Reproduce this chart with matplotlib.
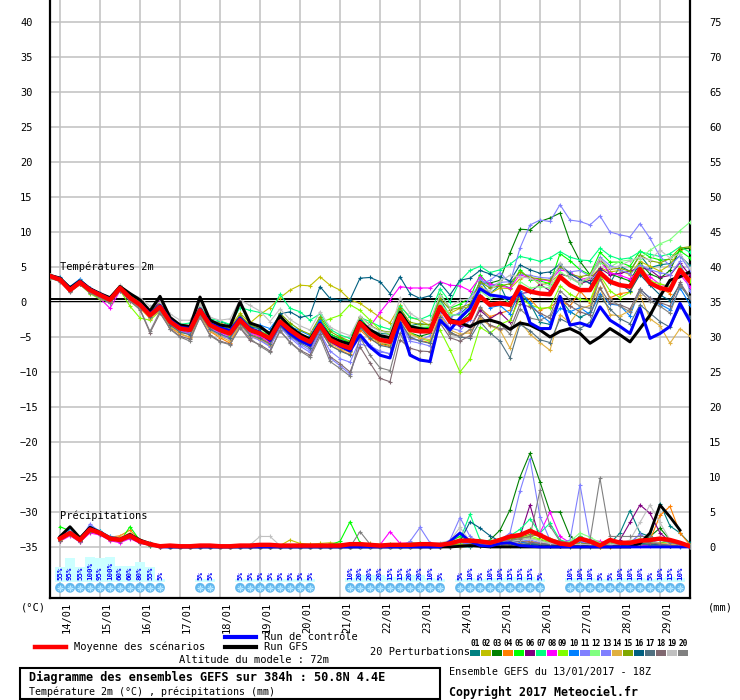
import numpy as np
import matplotlib
matplotlib.use('Agg')
import matplotlib.pyplot as plt
import matplotlib.transforms as mtransforms
from matplotlib.lines import Line2D
from matplotlib.patches import Rectangle

plt.rcParams['font.family'] = ['DejaVu Sans Mono', 'DejaVu Sans']

# ---------------- data (6-hourly steps from 13/01 18Z) ----------------
days = ['14/01', '15/01', '16/01', '17/01', '18/01', '19/01', '20/01', '21/01',
        '22/01', '23/01', '24/01', '25/01', '26/01', '27/01', '28/01', '29/01']
day_steps = [1, 5, 9, 13, 17, 21, 25, 29, 33, 37, 41, 45, 49, 53, 57, 61]

pert_colors = ['#008080', '#C0C000', '#008000', '#FF8000', '#00FF00', '#800080',
               '#00FF80', '#FF00FF', '#80FF00', '#0080FF', '#8080FF', '#80FF80',
               '#8080FF', '#E0B040', '#80A800', '#005F80', '#507080', '#806870',
               '#C0C0C0', '#808080']

# temperature 2m (degC), 65 values
t_mean = [3.7, 3.2, 1.7, 2.8, 1.7, 1.0, 0.3, 2.0, 0.6, -0.4,
          -1.9, -0.7, -2.8, -3.8, -4.0, -1.2, -3.3, -4.0, -4.5, -2.6,
          -4.0, -4.5, -5.2, -2.8, -4.0, -5.0, -5.7, -3.3, -5.4, -6.1,
          -6.6, -3.0, -4.5, -5.4, -5.7, -1.9, -4.0, -4.2, -4.2, -0.7,
          -2.8, -3.0, -2.3, 0.8, -0.4, -0.2, -0.4, 2.2, 1.5, 1.2,
          1.1, 3.6, 2.4, 1.7, 1.7, 4.2, 2.9, 2.4, 2.2, 4.7,
          2.7, 2.0, 1.7, 4.6, 2.9]
t_ctrl = [3.7, 3.3, 1.8, 2.9, 1.8, 1.1, 0.4, 2.0, 0.6, -0.3,
          -1.7, -0.5, -2.6, -3.6, -3.8, -1.0, -3.1, -3.7, -4.1, -2.3,
          -3.8, -4.3, -5.5, -3.0, -4.5, -5.5, -6.2, -3.0, -5.5, -6.3,
          -7.0, -4.7, -6.4, -7.6, -8.0, -3.0, -7.6, -8.3, -8.5, -2.6,
          -4.0, -2.3, -0.9, 1.9, 1.0, 0.8, 0.5, 1.2, -3.0, -3.8,
          -3.8, 0.8, -3.3, -3.0, -3.5, -0.7, -2.6, -3.5, -4.5, -0.9,
          -5.2, -4.5, -3.5, -0.2, -2.8]
t_gfs = [3.8, 3.4, 2.0, 3.0, 1.9, 1.2, 0.6, 2.2, 1.2, 0.3,
         -1.3, 0.8, -2.2, -3.3, -3.5, 0.7, -2.6, -3.3, -3.5, 0.0,
         -3.0, -3.5, -4.6, -2.0, -3.6, -4.6, -5.3, -3.1, -5.0, -5.6,
         -6.0, -2.8, -4.0, -4.8, -5.1, -1.5, -3.5, -3.8, -4.0, -1.0,
         -2.5, -3.0, -3.5, -2.8, -2.6, -3.0, -3.9, -3.0, -3.3, -4.0,
         -5.0, -4.2, -3.8, -4.5, -5.9, -5.0, -3.8, -4.7, -5.7, -3.8,
         -1.9, 0.8, 3.1, 3.6, 4.3]

t01 = [3.6, 3.1, 1.9, 3.0, 1.6, 0.9, 0.2, 2.1, 0.8, -0.2,
       -1.5, -0.6, -2.9, -3.6, -3.9, -1.0, -3.0, -2.8, -3.3, -2.5,
       -3.9, -4.3, -5.0, -2.5, -3.6, -4.8, -5.3, -3.0, -4.6, -5.2,
       -5.8, -2.6, -3.9, -4.5, -4.6, -0.9, -3.4, -3.1, -3.3, 0.4,
       -2.0, -1.7, -0.4, 3.0, 1.2, 2.4, -0.6, 1.0, -0.2, -2.9,
       -3.2, 0.5, -1.4, -2.2, -1.5, 4.6, 2.7, 5.1, 4.4, 6.7,
       4.9, 5.3, 5.5, 6.6, 5.2]
t02 = [3.8, 3.3, 1.8, 2.9, 1.9, 1.2, 0.6, 2.3, 0.9, 0.0,
       -1.3, -0.2, -2.4, -3.2, -3.4, -0.5, -2.8, -3.0, -3.6, -1.6,
       -3.0, -1.8, -0.8, 0.6, 1.7, 2.4, 2.3, 3.6, 2.4, 1.7,
       0.3, -0.2, -1.2, -2.2, -3.0, -0.5, -2.2, -2.6, -3.4, -0.8,
       -1.6, -0.9, -0.7, 2.3, 1.2, 2.0, 1.9, 3.3, 3.8, 2.4,
       2.8, 4.0, 3.6, 2.7, 3.4, 4.9, 4.3, 4.5, 3.9, 5.8,
       5.1, 4.4, 5.3, 7.4, 7.7]
t03 = [3.5, 3.0, 1.5, 2.6, 1.4, 0.7, 0.1, 1.8, 0.3, -0.6,
       -2.2, -1.0, -3.2, -4.1, -4.4, -1.5, -3.5, -4.3, -4.8, -2.8,
       -4.3, -4.7, -5.6, -3.1, -4.3, -5.2, -6.1, -3.6, -5.7, -6.4,
       -7.0, -3.3, -4.8, -5.9, -6.2, -2.2, -4.4, -4.9, -4.5, -0.9,
       -2.6, -2.8, -1.6, 2.7, 2.7, 3.1, 7.0, 10.4, 10.3, 11.5,
       12.0, 12.7, 8.6, 5.8, 3.9, 6.2, 4.0, 3.5, 3.0, 5.6,
       4.0, 3.4, 4.5, 7.6, 7.7]
t04 = [3.7, 3.3, 1.6, 2.7, 1.5, 0.8, 0.2, 2.0, 0.4, -0.9,
       -2.3, -1.2, -3.6, -4.6, -5.0, -1.9, -4.2, -5.1, -5.9, -3.2,
       -4.6, -5.0, -5.9, -3.4, -4.8, -5.6, -6.3, -4.0, -6.2, -6.9,
       -7.5, -4.0, -5.3, -6.0, -6.4, -2.6, -5.2, -5.5, -5.8, -2.4,
       -4.4, -4.9, -4.0, -0.9, -2.1, -1.6, -1.2, 1.0, 0.4, -1.1,
       -0.7, 0.2, -0.6, 1.6, -0.1, 3.5, 0.6, 1.2, 1.4, 4.1,
       3.1, 2.0, 1.2, 4.9, 3.3]
t05 = [3.9, 3.4, 2.0, 3.1, 1.8, 1.1, 0.5, 2.2, 0.7, -0.2,
       -1.6, -0.5, -2.7, -3.7, -3.9, -1.0, -3.1, -3.7, -4.3, -2.3,
       -3.8, -4.2, -4.7, -2.1, -3.2, -4.6, -5.1, -2.4, -4.6, -5.2,
       -5.8, -2.3, -3.9, -5.0, -5.0, -1.4, -3.3, -3.8, -3.6, 1.2,
       -0.9, -0.3, 0.6, 3.9, 2.2, 2.6, 2.0, 4.6, 3.2, 3.0,
       2.6, 6.9, 5.9, 4.6, 3.9, 7.1, 5.7, 5.7, 5.1, 7.3,
       6.4, 6.0, 6.1, 7.3, 6.3]
t06 = [3.6, 3.2, 1.7, 2.8, 1.7, 1.0, 0.2, 1.9, 0.5, -0.3,
       -1.8, 0.2, -2.5, -3.5, -3.7, -0.9, -3.2, -3.9, -4.2, -2.6,
       -4.2, -4.6, -5.4, -2.7, -4.3, -5.3, -5.6, -3.4, -5.1, -5.8,
       -6.3, -3.0, -4.4, -5.1, -5.4, -1.6, -3.8, -4.3, -4.0, -0.6,
       -3.0, -3.4, -3.6, -1.2, -2.4, -1.5, -2.9, 1.2, 1.4, 2.5,
       1.6, 4.0, 3.6, 2.6, 3.1, 4.8, 3.9, 4.1, 4.4, 4.9,
       4.6, 3.5, 3.8, 5.6, 3.8]
t07 = [3.8, 3.3, 1.9, 3.1, 1.8, 1.2, 0.5, 2.3, 0.9, 0.0,
       -1.3, -0.4, -2.3, -3.2, -3.0, -0.7, -2.4, -2.7, -3.2, -0.8,
       -1.2, -1.5, -1.8, 1.1, -0.9, -1.4, -2.6, -1.7, -3.9, -4.7,
       -5.2, -2.2, -2.8, -3.5, -3.9, -0.6, -2.2, -2.5, -1.9, 1.9,
       0.0, 3.0, 4.5, 5.1, 4.2, 4.6, 5.4, 6.5, 6.2, 5.8,
       6.3, 7.2, 6.4, 6.0, 5.9, 7.7, 6.6, 6.1, 6.3, 7.2,
       6.8, 6.5, 6.9, 7.9, 7.1]
t08 = [3.6, 3.1, 1.6, 2.6, 1.3, 0.5, -0.9, 1.6, 0.2, -0.8,
       -2.0, -0.9, -3.0, -4.1, -4.5, -1.8, -3.7, -4.4, -4.9, -3.0,
       -4.4, -4.9, -5.7, -3.2, -4.5, -5.5, -6.0, -3.7, -5.8, -6.5,
       -6.9, -3.2, -3.5, -1.5, 0.3, 2.2, 2.0, 2.0, 2.0, 2.9,
       2.4, 2.3, 1.6, 3.5, 2.6, 2.3, 2.0, 3.9, 3.4, 3.2,
       3.0, 4.6, 4.3, 3.2, 3.5, 5.8, 4.2, 3.8, 3.3, 4.6,
       3.6, 2.5, 2.2, 3.9, 2.2]
t09 = [3.4, 3.0, 1.5, 2.5, 1.2, 0.4, 0.0, 1.7, -0.6, -2.3,
       -2.6, -1.3, -3.3, -4.3, -4.6, -1.6, -3.6, -4.1, -4.8, -2.9,
       -4.1, -4.4, -5.0, -2.0, -3.7, -4.9, -5.5, -3.0, -2.4, -1.9,
       -0.4, -1.2, -2.6, -4.0, -4.6, -1.2, -4.4, -5.2, -5.6, -4.0,
       -6.8, -10.0, -8.2, -3.6, -4.5, -3.2, -2.6, 0.6, -0.4, -0.9,
       -0.8, 2.3, 1.1, 0.4, 0.2, 3.8, 1.6, 0.6, 1.4, 5.4,
       3.0, 2.6, 2.2, 5.1, 3.0]
t10 = [3.9, 3.5, 2.2, 3.3, 2.0, 1.3, 0.6, 2.1, 0.7, -0.3,
       -1.7, -0.4, -2.6, -3.4, -3.7, -0.9, -3.0, -3.5, -3.9, -2.0,
       -3.5, -3.3, -3.8, -1.9, -3.5, -4.1, -4.8, -2.6, -4.9, -5.5,
       -6.2, -2.6, -4.1, -4.9, -5.0, -1.2, -3.6, -3.7, -3.9, -0.9,
       -2.6, -2.5, -1.0, 1.0, -0.8, -0.5, -1.7, 1.6, -0.2, -1.8,
       -2.9, -0.9, -1.4, -0.8, -1.8, 1.2, -0.3, -0.5, -2.0, 1.8,
       0.6, -0.3, -1.1, 2.0, -0.4]
t11 = [3.5, 3.0, 1.6, 2.7, 1.5, 0.8, 0.1, 1.8, 0.3, -0.6,
       -2.1, -0.9, -3.0, -4.0, -4.3, -1.6, -3.8, -4.6, -5.2, -2.9,
       -4.6, -5.4, -6.3, -3.6, -4.9, -6.0, -6.9, -4.2, -8.0, -9.1,
       -10.3, -6.0, -6.4, -7.0, -7.4, -2.6, -5.3, -5.5, -4.8, -1.0,
       -2.2, -1.5, 0.6, 2.6, 3.1, 4.2, 2.7, 7.7, 11.0, 11.7,
       11.5, 13.9, 11.7, 11.5, 11.0, 12.3, 10.0, 9.6, 9.3, 11.2,
       9.1, 6.5, 5.2, 6.6, 4.5]
t12 = [3.7, 3.2, 1.8, 2.9, 1.8, 1.1, 0.4, 2.1, 0.6, -0.5,
       -1.9, -0.6, -2.6, -3.6, -3.8, -1.1, -3.2, -3.8, -4.2, -2.3,
       -3.7, -4.1, -4.6, -2.3, -3.9, -4.8, -5.4, -3.1, -5.2, -6.0,
       -6.5, -2.9, -4.3, -5.2, -5.5, -1.5, -3.6, -3.4, -3.5, -0.1,
       -1.8, -1.9, -1.3, 1.6, 0.5, 1.0, -0.3, 2.9, 2.0, 2.2,
       2.0, 4.3, 3.4, 2.6, 3.6, 5.6, 5.0, 5.8, 6.0, 6.2,
       7.4, 8.3, 8.9, 10.2, 11.4]
t13 = [3.6, 3.1, 1.7, 2.8, 1.7, 1.0, 0.3, 1.9, 0.5, -0.5,
       -2.0, -1.0, -3.2, -4.2, -4.6, -1.8, -4.0, -4.8, -5.3, -3.2,
       -4.9, -5.5, -6.4, -3.6, -5.1, -6.3, -7.2, -4.4, -7.0, -8.1,
       -8.6, -5.4, -6.2, -7.1, -7.4, -3.0, -5.6, -5.9, -6.3, -1.6,
       -3.7, -4.1, -2.6, 3.3, 2.2, 2.8, 2.9, 4.0, 3.8, 3.5,
       3.4, 4.9, 4.3, 4.5, 3.6, 6.4, 5.2, 4.6, 4.0, 5.3,
       4.6, 4.2, 3.9, 5.8, 1.5]
t14 = [3.5, 3.0, 1.5, 2.6, 1.4, 0.7, 0.0, 1.7, 0.3, -0.8,
       -2.4, -1.3, -3.5, -4.5, -5.1, -1.8, -4.1, -4.9, -5.6, -3.2,
       -4.8, -5.3, -6.1, -3.4, -4.6, -5.4, -6.0, -3.8, -5.9, -6.7,
       -7.2, -3.6, -5.0, -5.8, -6.1, -2.4, -4.6, -5.1, -5.4, -1.8,
       -4.0, -4.6, -4.4, -2.3, -3.4, -4.0, -6.6, -2.8, -4.6, -5.8,
       -6.9, -1.8, -3.0, -1.0, -0.5, 2.1, -1.8, -2.0, -1.2, 1.0,
       -2.4, -3.4, -5.9, -3.8, -4.9]
t15 = [3.8, 3.4, 1.9, 3.0, 1.9, 1.2, 0.5, 2.2, 0.9, -0.1,
       -1.5, -0.3, -2.6, -3.5, -3.8, -0.8, -2.9, -3.4, -3.8, -1.9,
       -3.3, -3.8, -4.4, -1.6, -3.0, -4.0, -4.6, -2.1, -4.2, -5.0,
       -5.6, -2.1, -3.3, -4.1, -4.3, -0.9, -2.9, -3.2, -3.2, 0.5,
       -1.1, -0.8, -0.3, 2.9, 2.0, 2.3, 2.6, 4.3, 3.5, 3.3,
       3.1, 5.1, 4.0, 3.6, 3.9, 6.1, 4.7, 4.8, 4.4, 6.7,
       5.9, 5.6, 6.2, 7.7, 7.9]
t16 = [3.7, 3.3, 1.8, 2.9, 1.8, 1.1, 0.4, 2.1, 0.7, -0.3,
       -1.8, -0.6, -2.7, -3.6, -3.8, -1.0, -3.1, -3.6, -4.0, -2.3,
       -3.6, -3.8, -4.3, -1.7, -1.4, -2.2, -1.9, 2.2, 0.5, 0.3,
       0.3, 3.4, 3.5, 2.9, 1.2, 3.6, 1.2, 0.5, 0.9, 2.7,
       1.0, 3.1, 3.4, 4.5, 4.0, 3.6, 3.0, 5.3, 4.6, 4.1,
       4.3, 5.4, 4.0, 3.2, 2.7, 4.5, 3.1, 2.5, 1.6, 3.9,
       2.4, 1.0, 0.2, 2.5, 0.4]
t17 = [3.6, 3.1, 1.6, 2.7, 1.6, 0.9, 0.1, 1.9, 0.4, -0.6,
       -2.2, -1.1, -3.3, -4.3, -4.7, -1.7, -3.9, -4.6, -5.1, -3.0,
       -4.7, -5.2, -6.0, -3.4, -4.8, -5.8, -6.6, -3.9, -6.2, -7.0,
       -7.6, -3.6, -5.2, -6.2, -6.5, -2.8, -5.0, -5.6, -5.9, -2.2,
       -4.3, -5.0, -5.2, -2.8, -4.4, -5.6, -8.0, -3.2, -4.1, -5.4,
       -5.8, -2.4, -3.1, -3.8, -2.9, 0.8, -1.0, -2.4, -3.1, -0.4,
       -1.6, -2.8, -3.6, -0.7, -2.1]
t18 = [3.4, 2.9, 1.4, 2.5, 1.3, 0.6, -0.2, 1.6, 0.1, -1.1,
       -4.4, -1.6, -3.8, -4.9, -5.3, -2.2, -4.7, -5.6, -6.0, -3.7,
       -5.5, -6.1, -7.0, -4.2, -5.7, -6.9, -7.6, -4.6, -7.8, -8.8,
       -10.0, -6.4, -8.7, -10.9, -11.4, -5.4, -6.6, -7.0, -7.1, -3.0,
       -5.1, -5.6, -4.8, -1.9, -3.3, -3.8, -3.9, -0.3, -0.7, -1.6,
       -2.3, 0.7, -0.6, -1.4, -1.9, 2.0, -0.2, -0.4, -1.0, 1.9,
       0.5, -0.1, -0.6, 2.8, 0.6]
t19 = [3.8, 3.3, 1.9, 3.1, 1.9, 1.3, 0.6, 2.4, 1.2, 0.6,
       -0.6, 0.0, -1.7, -2.6, -2.6, -0.4, -2.2, -2.6, -2.4, 0.3,
       -0.5, -1.3, -2.8, -1.0, -2.5, -3.4, -4.0, -1.4, -3.6, -4.3,
       -4.8, -2.0, -3.4, -4.2, -4.4, 0.6, -1.6, -2.5, -2.7, 1.0,
       -0.8, 0.3, 0.4, 2.0, 1.6, 3.0, 3.8, 3.6, 3.4, 2.7,
       2.3, 5.6, 3.5, 2.8, 3.7, 6.2, 4.8, 5.2, 5.9, 6.4,
       6.0, 7.4, 6.3, 6.9, 4.8]
t20 = [3.5, 3.0, 1.5, 2.6, 1.4, 0.6, -0.1, 1.7, 0.2, -1.0,
       -4.2, -1.3, -3.9, -5.0, -5.6, -2.1, -4.8, -5.7, -6.1, -3.6,
       -5.2, -6.3, -7.2, -4.0, -5.8, -7.0, -7.9, -5.0, -8.5, -9.5,
       -10.6, -5.0, -7.6, -9.4, -9.8, -4.4, -7.5, -8.2, -8.6, -2.4,
       -4.6, -4.9, -3.9, -0.7, -2.6, -3.1, -4.6, -1.0, -2.3, -2.6,
       -1.9, 1.6, 0.3, -0.6, -0.9, 3.3, 0.4, -0.6, -1.4, 1.5,
       0.1, -0.6, -1.6, 2.3, 0.7]

# precipitation (mm per 6h), steps 1..64
p_mean = [1.2, 2.0, 1.0, 2.5, 2.0, 1.2, 1.0, 1.6, 0.8, 0.4, 0.1, 0.2, 0.1, 0.1, 0.2, 0.2,
          0.1, 0.1, 0.2, 0.2, 0.3, 0.3, 0.2, 0.2, 0.2, 0.2, 0.2, 0.2, 0.2, 0.4, 0.4, 0.3,
          0.2, 0.3, 0.3, 0.3, 0.4, 0.4, 0.3, 0.5, 0.9, 0.9, 0.8, 0.6, 1.0, 1.5, 1.7, 2.3,
          1.7, 1.0, 0.5, 0.3, 1.2, 0.8, 0.2, 1.0, 0.6, 0.6, 0.9, 1.0, 1.2, 1.0, 0.6, 0.1]
p_ctrl = [1.2, 2.1, 1.0, 2.6, 2.0, 1.2, 1.0, 1.7, 0.8, 0.4, 0.0, 0, 0, 0, 0, 0,
          0, 0, 0, 0, 0, 0, 0, 0, 0, 0, 0, 0, 0, 0, 0, 0,
          0, 0, 0, 0, 0, 0, 0, 0.8, 2.0, 0.8, 0.2, 0.1, 0.5, 0.6, 0.2, 0.1,
          0, 0, 0, 0, 0, 0, 0, 0, 0, 0, 0, 0, 0, 0, 0, 0]
p_gfs = [1.5, 2.9, 1.3, 2.8, 2.1, 1.3, 1.1, 1.8, 1.0, 0.5, 0.1, 0, 0, 0, 0, 0,
         0, 0, 0, 0, 0, 0, 0, 0, 0, 0, 0, 0, 0, 0, 0, 0,
         0, 0, 0, 0, 0, 0, 0, 0, 0.1, 0.2, 0.1, 0, 0, 0, 0, 0,
         0, 0, 0, 0, 0, 0, 0, 0, 0, 0, 0.5, 2.0, 6.0, 4.3, 2.4, np.nan]

p01 = [1.0, 1.8, 0.9, 2.4, 2.1, 1.1, 0.8, 1.4, 0.7, 0.3, 0.0, 0, 0, 0, 0, 0,
       0, 0, 0, 0, 0, 0, 0, 0, 0, 0, 0, 0, 0, 0, 0, 0,
       0, 0, 0, 0, 0, 0, 0, 0, 0, 0, 0.2, 0.3, 0.3, 0.3, 0.2, 0.4,
       0.3, 0.2, 0.1, 0, 0, 0, 0, 0.5, 2.0, 5.2, 2.0, 1.5, 6.2, 3.0, 2.0, 0.5]
p02 = [1.3, 2.2, 1.1, 2.6, 1.8, 1.3, 1.2, 1.9, 0.9, 0.5, 0.1, 0, 0, 0, 0, 0,
       0, 0, 0, 0, 0, 0, 0.2, 1.0, 0.5, 0.4, 0.5, 0.6, 0.5, 0.4, 0.5, 0.5,
       0.4, 0.3, 0.4, 0.3, 0.2, 0.3, 0.3, 0.5, 0.6, 0.4, 0.3, 0.5, 0.8, 1.2, 1.5, 1.3,
       1.0, 0.6, 0.4, 0.3, 0.2, 0.3, 0.2, 0.4, 0.3, 0.5, 0.6, 0.8, 1.2, 0.8, 0.4, 0.1]
p03 = [0.9, 1.7, 0.7, 2.2, 1.9, 1.0, 0.9, 1.3, 0.6, 0.2, 0.0, 0, 0, 0, 0, 0,
       0, 0, 0, 0, 0, 0, 0, 0, 0, 0, 0, 0, 0, 0, 0.3, 0.2,
       0.1, 0, 0, 0.2, 0.3, 0.2, 0.1, 0.3, 0.5, 0.4, 0.6, 1.0, 2.4, 5.3, 10.0, 13.4,
       9.3, 5.0, 5.0, 1.5, 0.6, 0.3, 0.2, 0.2, 0.1, 0.3, 0.8, 1.5, 2.7, 1.0, 0.3, 0.0]
p04 = [1.1, 2.1, 1.2, 2.7, 2.2, 1.4, 1.6, 2.4, 1.0, 0.4, 0.1, 0, 0, 0, 0, 0,
       0, 0, 0, 0, 0, 0, 0, 0, 0, 0, 0, 0, 0, 0, 0, 0,
       0, 0, 0, 0, 0, 0, 0, 0.2, 0.3, 0.4, 0.6, 0.5, 0.4, 0.3, 0.5, 0.8,
       0.6, 0.3, 0.2, 0.1, 0.2, 0.1, 0, 0, 0.2, 0.5, 0.8, 1.0, 4.5, 5.8, 2.0, 0.3]
p05 = [2.9, 2.3, 1.0, 2.5, 2.0, 1.1, 0.8, 2.9, 0.9, 0.4, 0.0, 0, 0, 0, 0, 0,
       0, 0, 0, 0, 0, 0, 0, 0, 0, 0, 0, 0.3, 0.8, 3.6, 0.6, 0.3,
       0.2, 0.4, 0.3, 0.6, 0.5, 0.3, 0.4, 0.8, 1.5, 0.9, 0.6, 0.8, 1.2, 1.0, 1.8, 2.5,
       1.5, 0.8, 0.5, 0.3, 1.5, 0.8, 0.3, 0.2, 0.4, 0.8, 1.0, 0.5, 0.6, 0.8, 0.3, 0.1]
p06 = [1.2, 1.9, 0.9, 2.4, 1.9, 1.2, 1.0, 1.6, 0.8, 0.4, 0.1, 0, 0, 0, 0, 0,
       0, 0, 0, 0, 0, 0, 0, 0, 0, 0, 0, 0, 0, 0, 0, 0,
       0, 0, 0, 0, 0, 0, 0, 0.1, 0.2, 0.3, 0.2, 0.3, 0.5, 1.0, 1.5, 6.0,
       1.0, 0.5, 0.2, 0.3, 0.5, 0.4, 0.2, 0.3, 1.0, 3.5, 6.0, 4.8, 2.0, 0.8, 0.3, 0.1]
p07 = [1.4, 2.2, 1.3, 2.8, 2.3, 1.3, 1.1, 1.8, 0.7, 0.5, 0.1, 0, 0, 0, 0, 0,
       0, 0, 0, 0, 0, 0, 0, 0, 0, 0, 0, 0, 0, 0, 0, 0,
       0, 0, 0.2, 0.3, 0.2, 0.3, 0.4, 0.6, 1.0, 4.7, 1.0, 0.8, 1.0, 1.6, 2.5, 4.0,
       2.0, 3.4, 1.0, 0.6, 1.5, 0.8, 0.5, 0.3, 0.6, 0.8, 0.5, 0.3, 0.2, 0.1, 0.1, 0.0]
p08 = [0.8, 1.6, 0.7, 2.0, 1.7, 0.9, 0.6, 1.2, 0.5, 0.3, 0.0, 0, 0, 0, 0, 0,
       0, 0, 0, 0, 0, 0, 0, 0, 0, 0, 0, 0, 0, 0, 0, 0,
       0.3, 2.2, 0.5, 0.6, 0.3, 0.2, 0.3, 0.5, 0.6, 0.4, 0.3, 0.5, 0.8, 1.0, 1.2, 1.5,
       2.0, 5.0, 1.5, 0.6, 0.5, 1.0, 0.8, 0.4, 0.2, 0.3, 0.2, 0.2, 0.3, 0.2, 0.1, 0.0]
p09 = [1.0, 1.8, 1.0, 2.6, 2.1, 1.3, 1.0, 1.7, 0.9, 0.4, 0.1, 0, 0, 0, 0, 0,
       0, 0, 0, 0, 0, 0, 0, 0, 0, 0, 0, 0, 0, 0, 0.2, 0.1,
       0, 0, 0, 0, 0, 0, 0, 0.2, 0.8, 1.2, 0.7, 0.5, 0.4, 0.8, 1.2, 1.6,
       1.1, 0.8, 0.6, 0.4, 1.3, 1.0, 0.6, 0.4, 0.3, 0.5, 1.2, 0.6, 0.3, 0.2, 0.1, 0.0]
p10 = [1.5, 2.5, 1.1, 3.0, 2.3, 1.5, 1.3, 1.9, 0.8, 0.5, 0.1, 0, 0, 0, 0, 0,
       0, 0, 0, 0, 0, 0, 0, 0, 0, 0, 0, 0, 0, 0, 0, 0,
       0, 0, 0, 0, 0, 0, 0, 0, 0.3, 0.5, 0.4, 0.3, 0.6, 0.9, 0.7, 0.5,
       0.4, 0.3, 0.2, 0.1, 0.6, 1.0, 0.4, 0.2, 0.1, 0.2, 0.4, 0.3, 0.2, 0.1, 0, 0]
p11 = [1.3, 2.1, 1.0, 3.3, 2.1, 1.2, 1.0, 1.6, 0.8, 0.4, 0.0, 0, 0, 0, 0, 0,
       0, 0, 0, 0, 0, 0, 0, 0, 0, 0, 0, 0, 0, 0, 0, 0,
       0, 0, 0, 0, 0, 0, 0, 0.3, 0.5, 0.6, 0.4, 0.6, 1.0, 2.0, 8.0, 12.6,
       4.3, 1.0, 0.5, 1.0, 8.9, 1.0, 0.3, 0.2, 0.4, 0.6, 1.8, 0.8, 0.5, 0.3, 0.1, 0.0]
p12 = [1.1, 1.9, 0.9, 2.5, 2.0, 1.1, 0.9, 1.5, 0.7, 0.3, 0.1, 0, 0, 0, 0, 0,
       0, 0, 0, 0, 0, 0, 0, 0, 0, 0, 0, 0, 0, 0, 0, 0,
       0, 0, 0, 0.1, 0.2, 0.3, 0.2, 0.4, 0.6, 0.8, 0.5, 0.4, 0.6, 0.8, 1.0, 1.3,
       0.9, 0.6, 0.4, 0.8, 2.0, 1.4, 0.6, 0.4, 0.5, 0.9, 1.2, 0.7, 0.4, 0.3, 0.2, 0.1]
p13 = [1.2, 2.0, 1.1, 2.6, 2.2, 1.3, 1.1, 1.7, 0.9, 0.4, 0.1, 0, 0, 0, 0, 0,
       0, 0, 0, 0, 0, 0, 0, 0, 0, 0, 0, 0, 0, 0, 0, 0,
       0, 0, 0, 0.8, 2.8, 0.6, 0.2, 1.0, 4.2, 1.5, 0.6, 0.5, 0.4, 0.6, 0.8, 1.0,
       0.6, 0.4, 0.3, 0.2, 0.8, 0.5, 0.3, 0.2, 0.3, 0.6, 1.8, 1.0, 0.5, 0.3, 0.1, 0.0]
p14 = [1.0, 1.7, 0.8, 2.3, 1.8, 1.0, 1.4, 2.0, 0.8, 0.4, 0.0, 0, 0, 0, 0, 0,
       0, 0, 0, 0, 0, 0, 0, 0, 0, 0, 0, 0, 0, 0, 0, 0,
       0, 0, 0, 0, 0, 0, 0, 0, 0, 0.1, 0.1, 0.2, 0.2, 0.2, 0.3, 0.3,
       0.2, 0.2, 0.1, 0.1, 0.1, 0.1, 0, 0, 0.1, 0.2, 0.3, 0.5, 0.6, 0.4, 0.2, 0.0]
p15 = [1.3, 2.1, 1.0, 2.4, 1.9, 1.2, 1.0, 1.6, 0.7, 0.4, 0.1, 0, 0, 0, 0, 0,
       0, 0, 0, 0, 0, 0, 0, 0, 0, 0, 0, 0, 0, 0, 0.2, 0.2,
       0.1, 0.1, 0.2, 0.3, 0.3, 0.2, 0.2, 0.3, 0.4, 0.3, 0.4, 0.6, 0.9, 1.1, 1.4, 1.8,
       1.5, 1.2, 0.8, 0.6, 0.5, 0.4, 0.3, 0.3, 0.4, 0.6, 0.8, 0.9, 1.0, 0.7, 0.3, 0.1]
p16 = [1.2, 1.9, 0.9, 2.3, 1.8, 1.1, 0.9, 1.5, 0.8, 0.3, 0.1, 0, 0, 0, 0, 0,
       0, 0, 0, 0, 0, 0, 0, 0, 0, 0, 0, 0, 0, 0, 0, 0,
       0, 0, 0, 0, 0.2, 0.3, 0.4, 0.5, 0.8, 3.6, 2.7, 1.6, 0.8, 0.4, 0.3, 0.4,
       0.3, 0.2, 0.2, 0.1, 0.2, 0.1, 0.1, 0.2, 0.4, 0.6, 0.5, 0.4, 0.3, 0.2, 0.1, 0]
p17 = [1.1, 2.0, 1.0, 2.5, 2.0, 1.2, 1.0, 1.4, 0.7, 0.4, 0.0, 0, 0, 0, 0, 0,
       0, 0, 0, 0, 0, 0, 0, 0, 0, 0, 0, 0, 0, 0, 0, 0,
       0, 0, 0, 0, 0, 0, 0, 0, 0.1, 0.2, 0.2, 0.3, 0.2, 0.3, 0.4, 0.5,
       0.4, 0.3, 0.2, 0.1, 0.2, 0.2, 0.1, 0.1, 0.2, 0.3, 0.4, 0.3, 0.2, 0.1, 0.1, 0]
p18 = [0.9, 1.8, 0.8, 2.2, 1.9, 1.0, 0.8, 1.3, 0.6, 0.3, 0.0, 0, 0, 0, 0, 0,
       0, 0, 0, 0, 0, 0, 0, 0, 0, 0, 0, 0, 0, 0, 0, 0,
       0, 0, 0, 0, 0, 0, 0, 0, 0.2, 0.3, 0.3, 0.2, 0.4, 0.6, 0.8, 0.7,
       0.5, 0.4, 0.3, 0.2, 0.3, 0.5, 0.3, 0.2, 0.4, 0.6, 0.8, 0.6, 0.4, 0.2, 0.1, 0]
p19 = [1.4, 2.3, 1.2, 2.7, 2.2, 1.4, 1.2, 1.9, 0.9, 0.5, 0.1, 0, 0, 0, 0, 0,
       0, 0, 0, 0.3, 1.5, 1.5, 0.2, 0, 0, 0, 0, 0, 0, 0, 0, 0,
       0, 0, 0, 0, 0.3, 0.5, 0.6, 0.9, 2.8, 0.8, 0.5, 0.4, 0.6, 0.8, 1.0, 1.2,
       0.8, 0.5, 0.4, 0.3, 0.4, 0.3, 0.2, 0.3, 0.5, 1.0, 3.5, 6.0, 3.5, 1.0, 0.3, 0.1]
p20 = [1.2, 2.0, 1.0, 2.5, 2.0, 1.2, 1.0, 1.6, 0.8, 0.4, 0.1, 0, 0, 0, 0, 0,
       0, 0, 0, 0, 0, 0, 0, 0, 0, 0, 0, 0, 0, 0, 2.2, 0.4,
       0.2, 0.3, 0.4, 0.3, 0.4, 0.3, 0.4, 0.6, 0.8, 0.6, 0.5, 0.4, 0.6, 0.9, 1.2, 1.5,
       8.1, 3.0, 0.8, 0.6, 1.0, 1.0, 9.8, 1.5, 1.5, 1.5, 1.5, 1.5, 1.0, 0.6, 0.3, 0.1]

# snow probability (%) by step
snow_steps = [1, 2, 3, 4, 5, 6, 7, 8, 9, 10, 11,
              15, 16,
              19, 20, 21, 22, 23, 24, 25, 26,
              30, 31, 32, 33, 34, 35, 36, 37, 38, 39,
              41, 42, 43, 44, 45, 46, 47, 48, 49,
              52, 53, 54, 55, 56, 57, 58, 59, 60, 61, 62, 63]
snow_probs = [55, 95, 55, 100, 95, 100, 60, 60, 80, 55, 5,
              5, 5,
              5, 5, 5, 5, 5, 5, 5, 5,
              10, 20, 20, 20, 15, 15, 20, 20, 10, 5,
              5, 10, 5, 10, 10, 15, 15, 15, 5,
              10, 10, 10, 5, 5, 10, 10, 10, 5, 10, 15, 10]

t_pert = [t01, t02, t03, t04, t05, t06, t07, t08, t09, t10,
          t11, t12, t13, t14, t15, t16, t17, t18, t19, t20]
p_pert = [p01, p02, p03, p04, p05, p06, p07, p08, p09, p10,
          p11, p12, p13, p14, p15, p16, p17, p18, p19, p20]

# ---------------- figure ----------------
W, H = 740, 700
fig = plt.figure(figsize=(W / 100, H / 100), dpi=100)
ax = fig.add_axes([50 / W, 102 / H, 640 / W, 598 / H])

P0 = -35.0  # precipitation zero drawn at -35 degC
steps_t = np.arange(len(t_mean))
steps_p = np.arange(1, len(p_mean) + 1)

# grid
ax.set_xlim(0, 64)
ax.set_ylim(-42.29, 43.14)
ax.set_yticks(np.arange(-35, 41, 5))
ax.set_xticks(day_steps)
ax.set_xticklabels([])
ax.grid(True, color='#c0c0c0', lw=1.1)
ax.set_axisbelow(True)
ax.tick_params(length=0)
ax.tick_params(axis='y', pad=21.6, labelsize=7.5)
for lab in ax.get_yticklabels():
    lab.set_ha('left')

for side in ['left', 'right', 'bottom']:
    ax.spines[side].set_linewidth(1.6)
ax.spines['top'].set_visible(False)

ax2 = ax.twinx()
ax2.set_ylim(-42.29 + 35, 43.14 + 35)
ax2.set_yticks(np.arange(0, 76, 5))
ax2.tick_params(length=0, pad=13.7, labelsize=7.5)
for s in ax2.spines.values():
    s.set_visible(False)

# zero line (double)
ax.axhline(0.47, color='black', lw=1.4, zorder=2)
ax.axhline(0.1, color='black', lw=0.8, zorder=2)

# members
for vals, c in zip(t_pert, pert_colors):
    ax.plot(steps_t, vals, color=c, lw=0.8, marker='+', ms=3, mew=0.8, zorder=3)
for vals, c in zip(p_pert, pert_colors):
    ax.plot(steps_p, P0 + np.array(vals), color=c, lw=0.8, marker='+', ms=3, mew=0.8, zorder=3)

ax.plot(steps_t, t_gfs, color='black', lw=2.2, zorder=4)
ax.plot(steps_t, t_ctrl, color='#0000FF', lw=2.2, zorder=4)
ax.plot(steps_t, t_mean, color='#FF0000', lw=3.2, zorder=5)
ax.plot(steps_p, P0 + np.array(p_gfs), color='black', lw=2.0, zorder=4)
ax.plot(steps_p, P0 + np.array(p_ctrl), color='#0000FF', lw=2.0, zorder=4)
ax.plot(steps_p, P0 + np.array(p_mean), color='#FF0000', lw=3.2, zorder=5)

# snow probabilities
for s, pr in zip(snow_steps, snow_probs):
    h = (2 + 23 * pr / 100) / 7.0
    ax.add_patch(Rectangle((s - 0.5, -40.0), 1.0, h, facecolor='#ccffff',
                           edgecolor='none', zorder=2))
    ax.text(s, -39.75, f'{pr}%', rotation=90, ha='center', va='bottom',
            color='#0000FF', fontsize=5.3, fontweight='bold', zorder=6)
ax.scatter(snow_steps, [-40.83] * len(snow_steps), s=50, marker='o',
           color='#62b8ee', edgecolors='none', zorder=6)
ax.scatter(snow_steps, [-40.83] * len(snow_steps), s=24, marker='+',
           color='#c8f2ff', linewidths=0.9, zorder=7)
ax.scatter(snow_steps, [-40.83] * len(snow_steps), s=12, marker='x',
           color='#a0dcff', linewidths=0.7, zorder=7)

# inner labels
ax.text(1, 5.0, 'Températures 2m', fontsize=7.5, va='center', ha='left', zorder=6)
ax.text(1, -30.6, 'Précipitations', fontsize=7.5, va='center', ha='left', zorder=6)

# date labels
trans = mtransforms.blended_transform_factory(ax.transData, ax.transAxes)
for s, d in zip(day_steps, days):
    ax.text(s + 0.7, -0.007, d, transform=trans, rotation=90, ha='center',
            va='top', fontsize=7.5)


def fx(px):
    return px / W


def fy(py):
    return 1 - py / H


fig.text(fx(21), fy(607), '(°C)', fontsize=7.5, va='center', ha='left')
fig.text(fx(708), fy(607), '(mm)', fontsize=7.5, va='center', ha='left')

# legend
fig.add_artist(Line2D([fx(35), fx(66)], [fy(647), fy(647)], color='#FF0000', lw=3.2))
fig.text(fx(74), fy(647), 'Moyenne des scénarios', fontsize=7.5, va='center')
fig.add_artist(Line2D([fx(225), fx(256)], [fy(637), fy(637)], color='#0000FF', lw=3.0))
fig.text(fx(264), fy(637), 'Run de contrôle', fontsize=7.5, va='center')
fig.add_artist(Line2D([fx(225), fx(256)], [fy(647), fy(647)], color='black', lw=3.0))
fig.text(fx(264), fy(647), 'Run GFS', fontsize=7.5, va='center')
fig.text(fx(179), fy(660), 'Altitude du modele : 72m', fontsize=7.5, va='center')
fig.text(fx(370), fy(652), '20 Perturbations', fontsize=7.5, va='center')

for i, c in enumerate(pert_colors):
    x0 = 470 + 10.95 * i
    fig.add_artist(Rectangle((fx(x0), fy(656)), 10 / W, 6 / H, facecolor=c,
                             edgecolor='none', transform=fig.transFigure))
    fig.text(fx(x0 + 5), fy(644), f'{i + 1:02d}', fontsize=5.6, ha='center',
             va='center', fontweight='bold')

# info box
fig.add_artist(Rectangle((fx(20), fy(699)), 420 / W, 31 / H, facecolor='none',
                         edgecolor='black', lw=1.5, transform=fig.transFigure))
fig.text(fx(29), fy(677), 'Diagramme des ensembles GEFS sur 384h : 50.8N 4.4E',
         fontsize=8.6, fontweight='bold', va='center')
fig.text(fx(29), fy(692), 'Température 2m (°C) , précipitations (mm)',
         fontsize=7.2, va='center')
fig.text(fx(449), fy(672), 'Ensemble GEFS du 13/01/2017 - 18Z', fontsize=7.3, va='center')
fig.text(fx(449), fy(692), 'Copyright 2017 Meteociel.fr', fontsize=8.4,
         fontweight='bold', va='center')

fig.savefig('out.png', dpi=100)
